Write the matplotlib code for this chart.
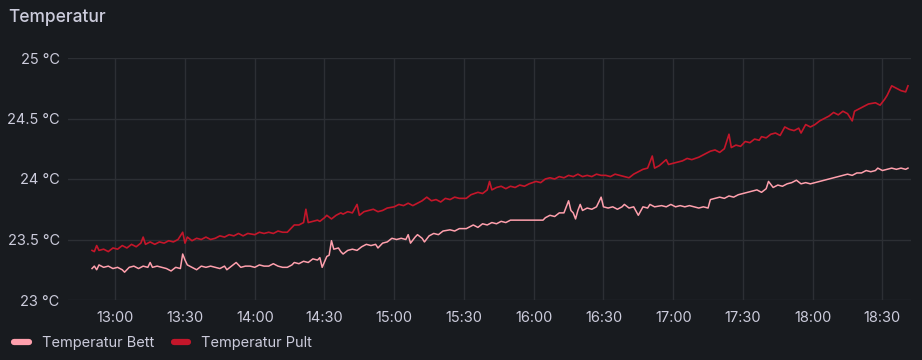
import matplotlib
matplotlib.use("Agg")
import matplotlib.pyplot as plt
import matplotlib.dates as mdates
import pandas as pd

plt.rcParams['font.family'] = ['Inter', 'DejaVu Sans']

# Temperatur Pult (Zeit, Wert)
pult_t = ["12:50", "12:51", "12:52", "12:53", "12:55", "12:57", "12:59", "13:01", "13:03", "13:05",
          "13:07", "13:09", "13:11", "13:12", "13:13", "13:15", "13:17", "13:19", "13:21", "13:23",
          "13:25", "13:27", "13:29", "13:30", "13:31", "13:33", "13:35", "13:37", "13:39", "13:41",
          "13:43", "13:45", "13:47", "13:49", "13:51", "13:53", "13:55", "13:57", "14:00", "14:02",
          "14:04", "14:06", "14:08", "14:10", "14:12", "14:14", "14:16", "14:17", "14:19", "14:21",
          "14:22", "14:23", "14:25", "14:27", "14:28", "14:30", "14:31", "14:33", "14:35", "14:37",
          "14:38", "14:40", "14:42", "14:44", "14:45", "14:47", "14:49", "14:51", "14:53", "14:55",
          "14:57", "15:00", "15:02", "15:04", "15:06", "15:08", "15:10", "15:12", "15:14", "15:16",
          "15:18", "15:20", "15:22", "15:24", "15:26", "15:28", "15:31", "15:33", "15:36", "15:38",
          "15:40", "15:41", "15:42", "15:44", "15:46", "15:48", "15:50", "15:52", "15:54", "15:56",
          "15:58", "16:01", "16:03", "16:05", "16:07", "16:09", "16:11", "16:13", "16:15", "16:17",
          "16:19", "16:21", "16:23", "16:25", "16:27", "16:29", "16:31", "16:33", "16:35", "16:37",
          "16:39", "16:41", "16:43", "16:45", "16:47", "16:49", "16:51", "16:52", "16:54", "16:57",
          "16:58", "17:00", "17:02", "17:04", "17:06", "17:08", "17:11", "17:13", "17:16", "17:18",
          "17:20", "17:22", "17:24", "17:25", "17:27", "17:29", "17:31", "17:33", "17:35", "17:37",
          "17:38", "17:40", "17:42", "17:44", "17:46", "17:48", "17:50", "17:52", "17:54", "17:55",
          "17:57", "17:59", "18:01", "18:03", "18:05", "18:07", "18:09", "18:11", "18:13", "18:15",
          "18:17", "18:18", "18:20", "18:22", "18:24", "18:27", "18:29", "18:31", "18:32", "18:34",
          "18:36", "18:38", "18:40", "18:41"]
pult_v = [23.41, 23.40, 23.45, 23.41, 23.42, 23.40, 23.43, 23.42, 23.45, 23.43,
          23.46, 23.44, 23.47, 23.52, 23.46, 23.48, 23.46, 23.48, 23.47, 23.49,
          23.48, 23.50, 23.56, 23.47, 23.52, 23.49, 23.51, 23.50, 23.52, 23.50,
          23.51, 23.53, 23.52, 23.54, 23.53, 23.55, 23.53, 23.55, 23.54, 23.56,
          23.55, 23.56, 23.55, 23.57, 23.56, 23.56, 23.60, 23.62, 23.62, 23.64,
          23.75, 23.64, 23.65, 23.66, 23.65, 23.68, 23.70, 23.67, 23.70, 23.72,
          23.71, 23.73, 23.72, 23.79, 23.70, 23.73, 23.74, 23.75, 23.73, 23.74,
          23.76, 23.77, 23.79, 23.78, 23.80, 23.78, 23.80, 23.82, 23.85, 23.82,
          23.83, 23.81, 23.84, 23.83, 23.85, 23.84, 23.84, 23.87, 23.89, 23.88,
          23.91, 23.98, 23.91, 23.93, 23.94, 23.92, 23.94, 23.93, 23.95, 23.94,
          23.96, 23.98, 23.97, 24.00, 24.01, 24.00, 24.02, 24.01, 24.03, 24.02,
          24.04, 24.02, 24.03, 24.02, 24.04, 24.03, 24.03, 24.02, 24.04, 24.03,
          24.02, 24.01, 24.04, 24.06, 24.08, 24.09, 24.19, 24.09, 24.11, 24.16,
          24.12, 24.13, 24.14, 24.15, 24.17, 24.16, 24.18, 24.20, 24.23, 24.24,
          24.22, 24.25, 24.37, 24.26, 24.28, 24.27, 24.31, 24.30, 24.33, 24.32,
          24.35, 24.34, 24.37, 24.38, 24.36, 24.43, 24.41, 24.40, 24.42, 24.38,
          24.45, 24.43, 24.45, 24.48, 24.50, 24.52, 24.55, 24.53, 24.56, 24.54,
          24.48, 24.56, 24.58, 24.60, 24.62, 24.63, 24.61, 24.66, 24.69, 24.77,
          24.75, 24.73, 24.72, 24.77]

# Temperatur Bett (Zeit, Wert)
bett_t = ["12:50", "12:51", "12:52", "12:53", "12:55", "12:57", "12:59", "13:01", "13:03", "13:04",
          "13:06", "13:08", "13:10", "13:12", "13:14", "13:15", "13:16", "13:18", "13:20", "13:22",
          "13:24", "13:26", "13:28", "13:29", "13:30", "13:31", "13:33", "13:35", "13:37", "13:39",
          "13:41", "13:43", "13:45", "13:47", "13:48", "13:50", "13:52", "13:54", "13:56", "13:58",
          "14:00", "14:02", "14:04", "14:06", "14:08", "14:10", "14:12", "14:14", "14:16", "14:17",
          "14:19", "14:21", "14:23", "14:25", "14:27", "14:28", "14:29", "14:31", "14:32", "14:33",
          "14:34", "14:36", "14:37", "14:38", "14:40", "14:42", "14:44", "14:46", "14:48", "14:50",
          "14:52", "14:53", "14:55", "14:57", "14:59", "15:01", "15:03", "15:05", "15:06", "15:07",
          "15:09", "15:10", "15:12", "15:13", "15:15", "15:17", "15:19", "15:21", "15:24", "15:26",
          "15:28", "15:31", "15:33", "15:34", "15:36", "15:38", "15:40", "15:42", "15:44", "15:46",
          "15:48", "15:50", "15:55", "16:00", "16:04", "16:05", "16:07", "16:09", "16:11", "16:13",
          "16:15", "16:16", "16:17", "16:18", "16:19", "16:20", "16:21", "16:23", "16:25", "16:27",
          "16:29", "16:30", "16:32", "16:34", "16:36", "16:38", "16:39", "16:41", "16:43", "16:45",
          "16:47", "16:49", "16:50", "16:52", "16:55", "16:57", "16:59", "17:01", "17:03", "17:05",
          "17:07", "17:09", "17:11", "17:13", "17:15", "17:16", "17:18", "17:20", "17:22", "17:24",
          "17:26", "17:28", "17:30", "17:32", "17:34", "17:36", "17:38", "17:40", "17:41", "17:43",
          "17:45", "17:47", "17:49", "17:51", "17:53", "17:55", "17:57", "17:59", "18:01", "18:03",
          "18:05", "18:07", "18:09", "18:11", "18:13", "18:15", "18:17", "18:19", "18:21", "18:23",
          "18:25", "18:27", "18:28", "18:30", "18:32", "18:34", "18:36", "18:38", "18:40", "18:41"]
bett_v = [23.26, 23.28, 23.25, 23.29, 23.27, 23.28, 23.26, 23.27, 23.25, 23.23,
          23.27, 23.28, 23.26, 23.28, 23.27, 23.31, 23.27, 23.28, 23.27, 23.26,
          23.24, 23.27, 23.26, 23.38, 23.33, 23.29, 23.27, 23.25, 23.28, 23.27,
          23.28, 23.27, 23.26, 23.28, 23.25, 23.28, 23.31, 23.27, 23.28, 23.28,
          23.27, 23.29, 23.28, 23.28, 23.30, 23.28, 23.27, 23.27, 23.29, 23.31,
          23.30, 23.32, 23.31, 23.34, 23.33, 23.35, 23.27, 23.36, 23.37, 23.49,
          23.42, 23.43, 23.40, 23.38, 23.41, 23.42, 23.41, 23.44, 23.46, 23.45,
          23.46, 23.43, 23.47, 23.48, 23.51, 23.50, 23.51, 23.50, 23.54, 23.47,
          23.52, 23.54, 23.51, 23.48, 23.53, 23.55, 23.54, 23.57, 23.58, 23.57,
          23.59, 23.59, 23.61, 23.62, 23.60, 23.63, 23.62, 23.64, 23.63, 23.65,
          23.64, 23.66, 23.66, 23.66, 23.66, 23.68, 23.70, 23.69, 23.72, 23.72,
          23.82, 23.74, 23.72, 23.67, 23.74, 23.79, 23.74, 23.76, 23.75, 23.77,
          23.85, 23.77, 23.76, 23.77, 23.75, 23.77, 23.79, 23.76, 23.77, 23.70,
          23.77, 23.76, 23.79, 23.77, 23.78, 23.77, 23.79, 23.77, 23.78, 23.77,
          23.78, 23.77, 23.76, 23.77, 23.76, 23.83, 23.84, 23.85, 23.84, 23.86,
          23.85, 23.87, 23.88, 23.89, 23.90, 23.91, 23.89, 23.92, 23.98, 23.93,
          23.95, 23.94, 23.96, 23.97, 23.99, 23.96, 23.97, 23.96, 23.97, 23.98,
          23.99, 24.00, 24.01, 24.02, 24.03, 24.04, 24.03, 24.05, 24.05, 24.07,
          24.06, 24.07, 24.09, 24.07, 24.08, 24.09, 24.08, 24.09, 24.08, 24.09]

x_ticks = ["13:00", "13:30", "14:00", "14:30", "15:00", "15:30",
           "16:00", "16:30", "17:00", "17:30", "18:00", "18:30"]
y_ticks = [23, 23.5, 24, 24.5, 25]

day = "2023-01-01 "
def zeit(liste):
    return pd.to_datetime([day + s for s in liste])

bg = "#181b1f"
txt = "#ccccdc"
grid = "#2c2f34"
c_bett = "#ffa0ad"
c_pult = "#c4162a"

fig = plt.figure(figsize=(9.22, 3.6), dpi=100)
fig.patch.set_facecolor(bg)
ax = fig.add_axes([68 / 922, 60 / 360, (910.7 - 68) / 922, 242 / 360])
ax.set_facecolor(bg)

ax.plot(zeit(bett_t), bett_v, color=c_bett, lw=1.1, label="Temperatur Bett")
ax.plot(zeit(pult_t), pult_v, color=c_pult, lw=1.2, label="Temperatur Pult")

ax.set_xlim(pd.Timestamp(day + "12:39:40"), pd.Timestamp(day + "18:42:10"))
ax.set_ylim(23, 25)

ax.set_xticks(zeit(x_ticks))
ax.xaxis.set_major_formatter(mdates.DateFormatter("%H:%M"))
ax.set_yticks(y_ticks)
ax.set_yticklabels(["23 °C", "23.5 °C", "24 °C", "24.5 °C", "25 °C"])

for s in ax.spines.values():
    s.set_visible(False)
ax.tick_params(axis="both", length=0, colors=txt, labelsize=10.5)
ax.tick_params(axis="x", pad=8)
ax.tick_params(axis="y", pad=6)
ax.grid(True, color=grid, lw=1)
ax.set_axisbelow(True)

fig.text(8 / 922, 1 - 18 / 360, "Temperatur", color=txt, fontsize=12.5,
         fontweight="medium", va="center", ha="left")

leg = fig.legend(loc="center left", bbox_to_anchor=(1 / 922, 1 - 343 / 360), ncol=2,
                 frameon=False, fontsize=10.5, labelcolor=txt, handlelength=1.0,
                 handletextpad=0.9, columnspacing=1.35)
for h in leg.legend_handles:
    h.set_linewidth(4.5)
    h.set_solid_capstyle("round")

fig.savefig("out.png", dpi=100, facecolor=bg)
